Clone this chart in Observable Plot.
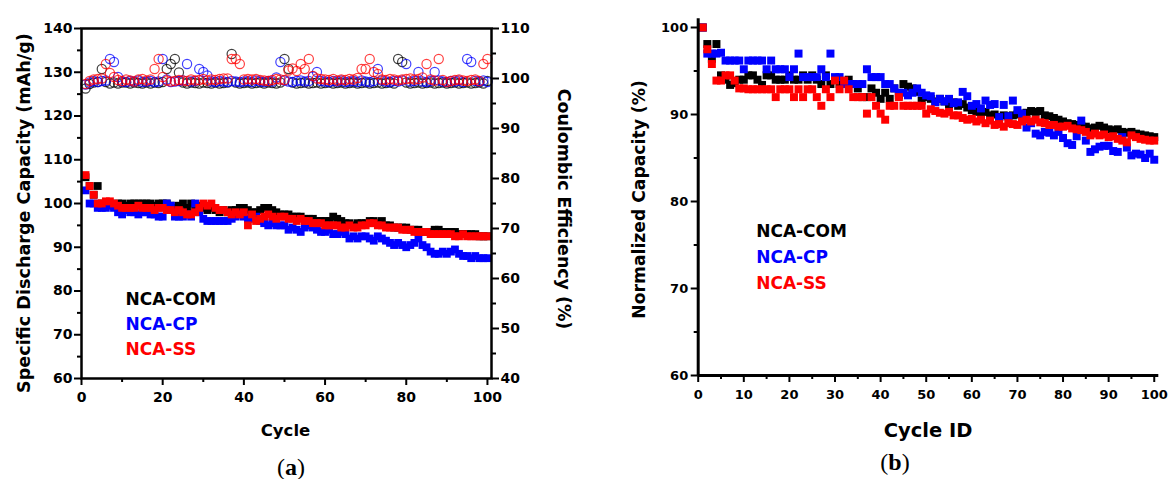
<!DOCTYPE html>
<html>
<head>
<meta charset="utf-8">
<script src="https://cdn.jsdelivr.net/npm/d3@7"></script>
<script src="https://cdn.jsdelivr.net/npm/@observablehq/plot@0.6"></script>
<style>
  html, body { margin: 0; padding: 0; background: #ffffff; }
  #wrap { position: relative; width: 1168px; height: 479px; overflow: hidden; background: #ffffff; }
  #wrap svg { position: absolute; top: 0; }
  .cap { position: absolute; font-family: "Liberation Serif", "DejaVu Serif", serif; font-size: 24px; line-height: 1; transform: translate(-50%, -50%); color: #000; }
</style>
</head>
<body>
<div id="wrap"></div>
<script>
// ---------- data ----------
const seriesNames = ["NCA-COM", "NCA-CP", "NCA-SS"];
const seriesColors = ["#000000", "#0000ff", "#ff0000"];
const cycles = d3.range(1, 101);

// (a) specific discharge capacity (mAh/g)
const capCOM = [106.0,104.0,102.0,104.0,100.0,100.0,100.0,99.5,100.0,100.0,
  99.5,100.0,100.0,100.0,100.0,100.0,100.0,99.5,100.0,100.0,
  100.0,99.5,99.0,99.5,100.0,99.0,100.0,99.0,99.5,99.0,
  98.5,99.0,98.5,98.0,98.5,98.0,98.5,98.5,99.0,99.0,
  98.5,98.0,98.0,98.5,99.0,99.0,98.5,98.0,97.5,97.5,
  97.5,97.0,97.0,97.0,96.5,96.5,96.5,96.0,96.0,96.0,
  96.0,97.0,96.5,96.0,95.5,95.5,95.0,95.5,95.5,95.5,
  96.0,96.0,95.5,96.0,95.0,95.0,94.5,94.5,94.5,94.5,
  94.0,94.0,94.0,93.5,93.5,93.5,94.0,94.0,93.5,93.5,
  93.5,93.5,93.0,93.0,93.0,93.0,93.0,92.5,92.5,92.5];
const capCP = [103.0,100.0,100.0,99.0,99.0,99.0,99.5,99.0,98.0,97.5,
  98.5,98.0,98.0,97.5,98.0,98.0,97.5,97.5,97.0,97.0,
  100.0,99.5,97.0,97.0,97.0,97.5,97.0,100.0,98.0,96.5,
  96.0,96.0,96.0,96.0,96.0,96.0,96.5,97.0,97.5,97.0,
  96.5,96.5,97.0,96.0,95.5,95.0,95.5,95.0,95.0,95.0,
  94.0,94.5,94.0,93.5,94.5,95.0,94.5,94.0,93.5,93.5,
  94.0,93.0,93.0,93.5,93.0,92.0,92.5,92.0,92.5,92.5,
  92.0,91.5,92.5,92.0,91.5,91.0,90.5,91.0,90.5,90.0,
  90.5,91.0,92.0,90.5,90.0,89.0,88.5,88.5,89.0,88.5,
  89.0,89.5,88.5,88.0,88.0,87.5,88.0,87.5,87.5,87.5];
const capSS = [106.5,104.0,102.0,100.0,100.0,100.5,100.5,100.0,99.5,99.0,
  99.0,99.0,99.0,99.5,99.0,99.0,99.0,98.5,99.0,99.0,
  98.5,98.5,98.0,98.5,98.0,97.5,97.5,98.0,99.0,100.0,
  99.5,100.0,99.0,98.5,98.5,98.0,97.5,98.0,97.5,98.0,
  95.0,97.5,96.0,96.5,97.0,97.5,97.0,96.5,97.0,97.0,
  96.5,96.5,96.0,96.5,96.0,96.0,95.5,95.5,95.5,95.0,
  95.0,95.0,95.0,94.5,94.5,95.0,94.5,94.5,95.0,95.0,
  95.5,95.5,95.0,95.0,94.5,94.5,94.5,94.5,94.0,94.0,
  94.0,93.5,93.5,93.5,93.5,93.0,93.0,93.0,93.0,93.0,
  93.0,92.5,92.5,93.0,92.5,92.5,92.5,92.5,92.5,92.5];

// (a) coulombic efficiency (%)
const ceCOM = [98.0,98.9,99.2,99.3,101.9,99.3,99.0,99.2,99.0,99.2,
  99.2,99.0,99.2,99.1,99.0,99.2,99.0,99.2,99.1,99.3,
  101.9,102.9,103.9,101.2,99.2,99.0,99.2,99.1,99.0,99.2,
  99.1,99.0,99.2,99.0,99.1,99.2,104.9,99.2,99.0,99.1,
  99.2,99.0,99.1,99.2,99.0,99.2,99.1,99.0,99.2,103.9,
  101.9,99.2,99.0,99.1,99.2,99.0,99.1,99.2,99.0,99.1,
  99.2,99.0,99.1,99.2,99.0,99.1,99.2,99.0,99.1,99.2,
  99.0,99.1,99.2,99.0,99.1,99.2,99.0,103.9,103.3,99.2,
  99.0,99.1,99.2,99.0,99.1,99.2,99.0,99.1,99.2,99.0,
  99.1,99.2,99.0,99.1,99.2,99.0,99.1,99.2,99.0,99.5];
const ceCP = [98.8,99.2,99.5,99.3,99.5,99.6,103.9,103.3,100.3,99.4,
  99.3,99.5,99.4,99.6,99.3,99.4,99.5,99.3,99.4,103.9,
  99.8,99.3,99.4,99.5,99.6,102.9,99.4,99.5,101.9,101.3,
  100.6,99.4,99.3,99.5,99.4,99.3,99.5,99.4,99.3,99.4,
  99.5,99.3,99.6,99.4,99.3,99.5,99.4,100.2,103.3,99.6,
  99.4,99.3,99.5,99.6,99.4,99.5,100.4,101.3,99.5,99.4,
  99.3,99.5,99.4,99.6,99.3,99.4,99.5,99.3,99.6,99.4,
  99.3,99.5,101.9,99.6,99.4,99.3,99.5,99.4,99.6,102.9,
  99.4,99.5,101.3,99.4,99.3,99.5,101.3,99.6,99.4,99.3,
  99.5,99.4,99.6,99.3,103.9,103.3,99.5,99.4,99.6,99.3];
const ceSS = [98.9,99.5,99.8,99.9,100.0,102.9,101.1,100.3,99.7,99.5,
  99.8,99.6,99.4,99.8,99.9,99.6,99.8,101.9,103.9,100.3,
  99.6,99.4,99.5,99.7,99.6,99.5,99.8,99.6,99.7,99.9,
  99.6,99.8,99.7,99.9,100.0,100.0,103.9,103.9,102.9,99.8,
  99.9,99.8,99.9,99.7,99.6,99.5,99.7,99.9,99.8,99.7,
  101.6,102.0,101.5,102.9,101.9,103.9,100.5,100.0,99.9,99.8,
  99.7,99.9,99.6,99.8,99.7,99.9,99.8,100.1,101.9,101.9,
  103.9,101.3,100.9,99.8,99.7,99.9,99.8,99.6,99.8,99.9,
  100.0,99.8,99.9,100.2,102.9,99.8,99.6,103.9,99.7,99.3,
  99.5,99.7,99.8,99.6,99.5,99.7,99.8,99.5,102.9,103.9];

// (b) normalized capacity (%)
const normCOM = [100.0,98.1,96.4,98.1,94.5,94.0,93.4,93.6,94.0,94.0,
  94.5,94.5,94.0,93.4,94.5,94.5,94.0,94.0,94.0,94.5,
  94.0,94.0,94.5,94.0,94.5,94.0,93.5,94.5,93.5,94.0,
  93.5,93.5,94.0,93.5,93.0,92.0,92.0,93.0,92.5,91.8,
  92.5,91.8,93.0,92.2,93.5,93.2,93.0,92.6,91.6,92.0,
  91.8,91.5,91.8,91.5,91.2,91.4,91.0,91.2,90.8,90.5,
  90.3,89.9,90.3,89.9,90.0,89.7,89.9,89.8,89.9,90.0,
  90.1,90.2,90.4,90.3,90.4,89.9,89.8,89.6,89.4,89.2,
  89.0,88.9,88.8,88.7,88.6,88.4,88.5,88.7,88.5,88.3,
  88.2,88.3,88.0,87.9,88.0,87.8,87.7,87.6,87.5,87.4];
const normCP = [100.0,97.0,97.0,97.0,97.1,96.2,96.2,96.2,96.2,95.2,
  96.2,96.2,96.2,96.2,95.2,96.2,95.2,95.2,95.2,94.3,
  95.2,97.0,94.3,94.3,94.3,94.3,95.2,94.3,97.0,94.3,
  94.3,93.5,93.5,93.5,93.5,93.5,95.2,94.3,94.3,94.3,
  93.5,93.5,93.0,92.5,92.5,92.2,92.5,93.0,92.5,92.2,
  92.1,91.4,91.8,91.5,91.8,91.3,91.4,92.6,92.1,91.0,
  91.2,90.7,91.6,91.1,91.2,89.7,91.1,89.8,91.6,90.5,
  90.1,88.5,89.0,87.8,87.6,88.0,87.9,87.6,88.0,87.3,
  86.7,86.5,87.5,89.3,87.0,85.7,86.0,86.3,86.4,86.4,
  85.8,85.7,87.4,86.2,85.3,85.5,85.4,85.0,85.5,84.8];
const normSS = [100.0,97.5,95.8,93.9,93.9,94.5,94.5,93.9,93.0,93.0,
  92.9,92.9,92.9,92.9,92.9,92.9,92.0,92.9,92.9,92.9,
  92.0,92.9,92.0,92.9,92.9,92.0,91.0,92.9,92.0,93.9,
  92.9,93.9,92.9,92.0,92.0,92.0,90.1,92.0,91.0,90.1,
  89.4,91.0,91.0,92.0,91.0,91.0,91.0,91.0,91.0,90.1,
  90.6,90.4,90.2,90.1,90.3,89.9,89.9,89.6,89.4,89.5,
  89.2,89.4,89.0,89.3,88.8,88.9,88.6,89.0,88.9,88.8,
  89.2,89.4,89.2,89.4,89.1,89.0,88.8,88.8,88.6,88.6,
  88.7,88.4,88.3,88.2,88.0,87.6,87.8,87.6,87.7,87.4,
  87.5,87.2,87.0,86.8,87.6,87.4,87.2,87.1,87.0,87.0];

// tick values
const xTicksA = [0, 20, 40, 60, 80, 100];
const xMinorA = [10, 30, 50, 70, 90];
const yTicksA = [60, 70, 80, 90, 100, 110, 120, 130, 140];
const yMinorA = [65, 75, 85, 95, 105, 115, 125, 135];
const ceTicks = [40, 50, 60, 70, 80, 90, 100, 110];
const ceMinor = [45, 55, 65, 75, 85, 95, 105];
const xTicksB = [0, 10, 20, 30, 40, 50, 60, 70, 80, 90, 100];
const xMinorB = [5, 15, 25, 35, 45, 55, 65, 75, 85, 95];
const yTicksB = [60, 70, 80, 90, 100];
const yMinorB = [65, 75, 85, 95];

// ---------- build tables ----------
const capArrays = [capCOM, capCP, capSS];
const ceArrays = [ceCOM, ceCP, ceSS];
const normArrays = [normCOM, normCP, normSS];
const tbl = (arrs) => arrs.map((arr, s) => cycles.map((c, i) => ({cycle: c, v: arr[i], s})));

// CE (right axis 40..110) mapped onto capacity axis (60..140)
const ceToCap = v => 60 + (v - 40) * 80 / 70;
const capToCe = v => 40 + (v - 60) * 70 / 80;

const FONT = "DejaVu Sans";
const base = {fontFamily: FONT, fontWeight: "bold", color: "#000", background: "transparent", overflow: "visible"};

// ---------- panel (a) ----------
const capT = tbl(capArrays);
const ceT = tbl(ceArrays);
const marksA = [];
ceT.forEach((rows, s) => marksA.push(Plot.dot(rows, {x: "cycle", y: d => ceToCap(d.v), r: 4.6, stroke: seriesColors[s], strokeWidth: 1.2, strokeOpacity: 0.75, fill: "none"})));
capT.forEach((rows, s) => marksA.push(Plot.dot(rows, {x: "cycle", y: "v", r: 4.4, symbol: "square", fill: seriesColors[s], stroke: "none"})));
marksA.push(
  Plot.frame({stroke: "#000", strokeWidth: 2.5}),
  Plot.axisX(xTicksA, {tickSize: 7, tickPadding: 7, strokeWidth: 2, fontSize: 14, fontWeight: "bold", label: null}),
  Plot.axisX(xMinorA, {tickSize: 4, strokeWidth: 2, stroke: "#000", fill: "none", label: null}),
  Plot.axisY(yTicksA, {tickSize: 7, tickPadding: 2, strokeWidth: 2, fontSize: 14, fontWeight: "bold", label: null}),
  Plot.axisY(yMinorA, {tickSize: 4, strokeWidth: 2, stroke: "#000", fill: "none", label: null}),
  Plot.axisY(ceTicks.map(ceToCap), {anchor: "right", tickSize: 7, tickPadding: 2, strokeWidth: 2, fontSize: 14, fontWeight: "bold", label: null, tickFormat: d => String(Math.round(capToCe(d)))}),
  Plot.axisY(ceMinor.map(ceToCap), {anchor: "right", tickSize: 4, strokeWidth: 2, stroke: "#000", fill: "none", label: null}),
  Plot.text(["Specific Discharge Capacity (mAh/g)"], {frameAnchor: "left", dx: -57, dy: 9.5, rotate: -90, textAnchor: "middle", lineAnchor: "middle", fontSize: 17.6, fontWeight: "bold", fill: "#000"}),
  Plot.text(["Coulombic Efficiency (%)"], {frameAnchor: "right", dx: 72, dy: 5.5, rotate: 90, textAnchor: "middle", lineAnchor: "middle", fontSize: 17.4, fontWeight: "bold", fill: "#000"}),
  Plot.text(["Cycle"], {frameAnchor: "bottom", dx: -1, dy: 52, textAnchor: "middle", lineAnchor: "middle", fontSize: 16.5, fontWeight: "bold", fill: "#000"})
);
seriesNames.forEach((name, i) => marksA.push(
  Plot.text([name], {frameAnchor: "top-left", dx: 44, dy: 271 + i * 24.8, textAnchor: "start", lineAnchor: "middle", fontSize: 17, fontWeight: "bold", fill: seriesColors[i]})
));

const plotA = Plot.plot({
  width: 584, height: 479,
  marginLeft: 81, marginRight: 93, marginTop: 28, marginBottom: 101,
  x: {domain: [0, 101]},
  y: {domain: [60, 140]},
  style: base,
  marks: marksA
});
plotA.style.left = "0px";

// ---------- panel (b) ----------
const normT = tbl(normArrays);
const marksB = [];
normT.forEach((rows, s) => marksB.push(Plot.dot(rows, {x: "cycle", y: "v", r: 4.5, symbol: "square", fill: seriesColors[s], stroke: "none"})));
marksB.push(
  Plot.ruleX([0], {stroke: "#000", strokeWidth: 3}),
  Plot.ruleY([60], {stroke: "#000", strokeWidth: 3}),
  Plot.axisX(xTicksB, {tickSize: 7, tickPadding: 7, strokeWidth: 2, fontSize: 13, fontWeight: "bold", label: null}),
  Plot.axisX(xMinorB, {tickSize: 4, strokeWidth: 2, stroke: "#000", fill: "none", label: null}),
  Plot.axisY(yTicksB, {tickSize: 7, tickPadding: 3, strokeWidth: 2, fontSize: 13, fontWeight: "bold", label: null}),
  Plot.axisY(yMinorB, {tickSize: 4, strokeWidth: 2, stroke: "#000", fill: "none", label: null}),
  Plot.text(["Normalized Capacity (%)"], {frameAnchor: "left", dx: -58.7, dy: 2.3, rotate: -90, textAnchor: "middle", lineAnchor: "middle", fontSize: 17.2, fontWeight: "bold", fill: "#000"}),
  Plot.text(["Cycle ID"], {frameAnchor: "bottom", dx: -0.5, dy: 55, textAnchor: "middle", lineAnchor: "middle", fontSize: 19.5, fontWeight: "bold", fill: "#000"})
);
seriesNames.forEach((name, i) => marksB.push(
  Plot.text([name], {frameAnchor: "top-left", dx: 58, dy: 212.5 + i * 26, textAnchor: "start", lineAnchor: "middle", fontSize: 17, fontWeight: "bold", fill: seriesColors[i]})
));

const plotB = Plot.plot({
  width: 584, height: 479,
  marginLeft: 113.7, marginRight: 9.7, marginTop: 18.3, marginBottom: 104,
  x: {domain: [0, 101]},
  y: {domain: [60, 101]},
  style: base,
  marks: marksB
});
plotB.style.left = "584px";

const wrap = document.getElementById("wrap");
wrap.appendChild(plotA);
wrap.appendChild(plotB);

const capA = document.createElement("div");
capA.className = "cap";
capA.style.left = "291px"; capA.style.top = "467px";
capA.innerHTML = "(<b>a</b>)";
const capB = document.createElement("div");
capB.className = "cap";
capB.style.left = "895px"; capB.style.top = "462px";
capB.innerHTML = "(<b>b</b>)";
wrap.appendChild(capA);
wrap.appendChild(capB);
</script>
</body>
</html>
